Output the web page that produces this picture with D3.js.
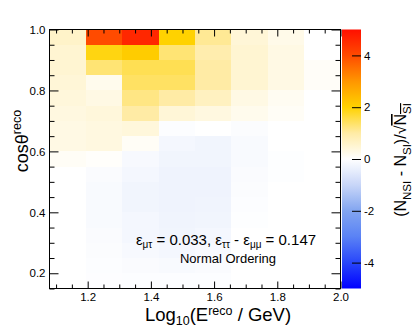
<!DOCTYPE html>
<html>
<head>
<meta charset="utf-8">
<script src="https://cdn.jsdelivr.net/npm/d3@7"></script>
<style>
  body { margin: 0; background: #fff; }
  svg { display: block; font-family: "Liberation Sans", Arial, Helvetica, sans-serif; }
  .axis path { display: none; }
  .axis line { stroke: #000; stroke-width: 1px; }
  .axis text { fill: #000; font-size: 11.5px; font-family: "Liberation Sans", Arial, sans-serif; }
</style>
</head>
<body>
<svg id="chart" width="415" height="329"></svg>
<script>
// log10(E/GeV) bin edges (12 GeV .. 100 GeV, 8 bins)
const xEdges = [1.0792, 1.1943, 1.3094, 1.4245, 1.5396, 1.6547, 1.7698, 1.8849, 2.0];
// cos(theta) bin edges, top to bottom
const cosEdges = [1.0, 0.95, 0.9, 0.85, 0.8, 0.75, 0.7, 0.65, 0.6, 0.55, 0.5,
                  0.45, 0.4, 0.35, 0.3, 0.25, 0.2, 0.15];
// (N_NSI - N_SI)/sqrt(N_SI), one row per cos bin (top row first)
const significance = [
  [0.6,  4.0,  4.6,  2.0,  1.1,  0.45, 0.25, 0.0],
  [0.5,  1.9,  2.1,  1.3,  0.9,  0.5,  0.3,  0.0],
  [0.5,  1.3,  1.5,  1.5,  1.0,  0.5,  0.3,  0.08],
  [0.45, 0.2,  1.4,  1.4,  1.0,  0.5,  0.3,  0.08],
  [0.4,  0.3,  1.2,  1.0,  0.7,  0.3,  0.15, 0.0],
  [0.35, 0.4,  1.0,  0.45, 0.35, 0.2,  0.1,  0.0],
  [0.3,  0.35, 0.4, -0.05, 0.0, -0.08, 0.0,  0.0],
  [0.3,  0.35, 0.1, -0.2, -0.25, -0.12, 0.0,  0.0],
  [0.1,  0.05, -0.15, -0.25, -0.25, -0.12, -0.03, 0.0],
  [0.0, -0.1, -0.2, -0.3, -0.3, -0.1, -0.03, 0.0],
  [0.0, -0.12, -0.25, -0.3, -0.3, -0.08, 0.0, 0.0],
  [0.0, -0.12, -0.25, -0.3, -0.28, -0.05, 0.0, 0.0],
  [0.0, -0.12, -0.2, -0.28, -0.25, -0.03, 0.0, 0.0],
  [0.0, -0.1, -0.2, -0.25, -0.2, 0.0, 0.0, 0.0],
  [0.0, -0.08, -0.15, -0.2, -0.15, 0.0, 0.0, 0.0],
  [0.0, -0.06, -0.1, -0.12, -0.1, 0.0, 0.0, 0.0],
  [0.0, -0.04, -0.06, -0.06, -0.05, 0.0, 0.0, 0.0]
];
const xTicks = [1.2, 1.4, 1.6, 1.8, 2.0];
const yTicks = [0.2, 0.4, 0.6, 0.8, 1.0];
const zTicks = [-4, -2, 0, 2, 4];

const LEFT = 49.5, RIGHT = 340.5, TOP = 29.5, BOTTOM = 288.5;
const BAR = { X0: 342, X1: 361 };

const svg = d3.select("#chart");

const xScale = d3.scaleLinear().domain([xEdges[0], 2.0]).range([LEFT, RIGHT]);
const yScale = d3.scaleLinear().domain([0.15, 1.0]).range([BOTTOM, TOP]);
const zScale = d3.scaleLinear().domain([-5, 5]).range([BOTTOM, TOP]);

const color = d3.scaleLinear()
    .domain([-5, -4, -3, -2, -1, 0, 1, 2, 3, 4, 5])
    .range(["#0000ff", "#2846fa", "#5a82f5", "#82a5f0", "#c8d6f8", "#ffffff",
            "#ffeba5", "#ffd200", "#ff9600", "#ff4b00", "#ff0f00"])
    .clamp(true);

/* cells */
const cells = [];
significance.forEach((row, i) => row.forEach((v, j) => cells.push({ i, j, v })));

svg.append("g")
    .selectAll("rect")
    .data(cells).enter()
    .append("rect")
    .attr("x", d => xScale(xEdges[d.j]))
    .attr("y", d => yScale(cosEdges[d.i]))
    .attr("width", d => xScale(xEdges[d.j + 1]) - xScale(xEdges[d.j]))
    .attr("height", d => yScale(cosEdges[d.i + 1]) - yScale(cosEdges[d.i]))
    .attr("fill", d => color(d.v))
    .attr("shape-rendering", "crispEdges");

/* axes with inner ticks on all four sides */
const xMinor = d3.range(1.1, 2.0001, 0.05).filter(t => !xTicks.some(m => Math.abs(m - t) < 1e-6));
const yMinor = d3.range(0.15, 1.0001, 0.05).filter(t => !yTicks.some(m => Math.abs(m - t) < 1e-6));

svg.append("g").attr("class", "axis")
    .attr("transform", `translate(0, ${BOTTOM})`)
    .call(d3.axisBottom(xScale).tickValues(xTicks).tickSize(-7).tickPadding(4).tickFormat(d3.format(".1f")));
svg.append("g").attr("class", "axis")
    .attr("transform", `translate(0, ${BOTTOM})`)
    .call(d3.axisBottom(xScale).tickValues(xMinor).tickSize(-4).tickFormat(""));
svg.append("g").attr("class", "axis")
    .attr("transform", `translate(0, ${TOP})`)
    .call(d3.axisTop(xScale).tickValues(xTicks).tickSize(-7).tickFormat(""));
svg.append("g").attr("class", "axis")
    .attr("transform", `translate(0, ${TOP})`)
    .call(d3.axisTop(xScale).tickValues(xMinor).tickSize(-4).tickFormat(""));

svg.append("g").attr("class", "axis")
    .attr("transform", `translate(${LEFT}, 0)`)
    .call(d3.axisLeft(yScale).tickValues(yTicks).tickSize(-9).tickPadding(4).tickFormat(d3.format(".1f")));
svg.append("g").attr("class", "axis")
    .attr("transform", `translate(${LEFT}, 0)`)
    .call(d3.axisLeft(yScale).tickValues(yMinor).tickSize(-5).tickFormat(""));
svg.append("g").attr("class", "axis")
    .attr("transform", `translate(${RIGHT}, 0)`)
    .call(d3.axisRight(yScale).tickValues(yTicks).tickSize(-9).tickFormat(""));
svg.append("g").attr("class", "axis")
    .attr("transform", `translate(${RIGHT}, 0)`)
    .call(d3.axisRight(yScale).tickValues(yMinor).tickSize(-5).tickFormat(""));

/* frame */
svg.append("rect")
    .attr("x", LEFT).attr("y", TOP)
    .attr("width", RIGHT - LEFT).attr("height", BOTTOM - TOP)
    .attr("fill", "none").attr("stroke", "#000").attr("stroke-width", 1);

/* colour bar */
const grad = svg.append("defs").append("linearGradient")
    .attr("id", "zgrad").attr("x1", 0).attr("y1", 1).attr("x2", 0).attr("y2", 0);
grad.selectAll("stop")
    .data(d3.range(-5, 5.001, 0.25)).enter()
    .append("stop")
    .attr("offset", d => (d + 5) / 10)
    .attr("stop-color", d => color(d));

svg.append("rect")
    .attr("x", BAR.X0).attr("y", TOP)
    .attr("width", BAR.X1 - BAR.X0).attr("height", BOTTOM - TOP)
    .attr("fill", "url(#zgrad)");

svg.append("g").attr("class", "axis")
    .attr("transform", `translate(${BAR.X1}, 0)`)
    .call(d3.axisRight(zScale).tickValues(zTicks).tickSize(-9).tickPadding(3).tickFormat(d3.format("d")))
    .selectAll("text").text(d => d < 0 ? "-" + Math.abs(d) : d);

/* axis titles */
svg.append("text")
    .attr("x", 218).attr("y", 321)
    .attr("text-anchor", "middle")
    .style("font-size", "18.5px")
    .call(t => {
        t.append("tspan").text("Log");
        t.append("tspan").attr("dy", 4).style("font-size", "12.5px").text("10");
        t.append("tspan").attr("dy", -4).text("(E");
        t.append("tspan").attr("dy", -6).style("font-size", "12.5px").text("reco");
        t.append("tspan").attr("dy", 6).text(" / GeV)");
    });

svg.append("text")
    .attr("transform", "translate(28, 141) rotate(-90)")
    .attr("text-anchor", "middle")
    .style("font-size", "18px")
    .call(t => {
        t.append("tspan").text("cos\u03b8");
        t.append("tspan").attr("dy", -7).style("font-size", "12.5px").text("reco");
    });

svg.append("text")
    .attr("transform", "translate(406, 160) rotate(-90)")
    .attr("text-anchor", "middle")
    .style("font-size", "16px")
    .call(t => {
        t.append("tspan").text("(N");
        t.append("tspan").attr("dy", 5).style("font-size", "11.5px").text("NSI");
        t.append("tspan").attr("dy", -5).text(" - N");
        t.append("tspan").attr("dy", 5).style("font-size", "11.5px").text("SI");
        t.append("tspan").attr("dy", -5).text(")/\u221A");
        t.append("tspan").style("text-decoration", "overline").text("N");
        t.append("tspan").attr("dy", 5).style("font-size", "11.5px").style("text-decoration", "overline").text("SI");
    });

/* annotation */
svg.append("text")
    .attr("x", 226).attr("y", 245)
    .attr("text-anchor", "middle")
    .style("font-size", "15px")
    .call(t => {
        t.append("tspan").text("\u03b5");
        t.append("tspan").attr("dy", 3).style("font-size", "10px").text("\u03bc\u03c4");
        t.append("tspan").attr("dy", -3).text(" = 0.033, \u03b5");
        t.append("tspan").attr("dy", 3).style("font-size", "10px").text("\u03c4\u03c4");
        t.append("tspan").attr("dy", -3).text(" - \u03b5");
        t.append("tspan").attr("dy", 3).style("font-size", "10px").text("\u03bc\u03bc");
        t.append("tspan").attr("dy", -3).text(" = 0.147");
    });

svg.append("text")
    .attr("x", 228).attr("y", 263)
    .attr("text-anchor", "middle")
    .style("font-size", "13px")
    .text("Normal Ordering");
</script>
</body>
</html>
